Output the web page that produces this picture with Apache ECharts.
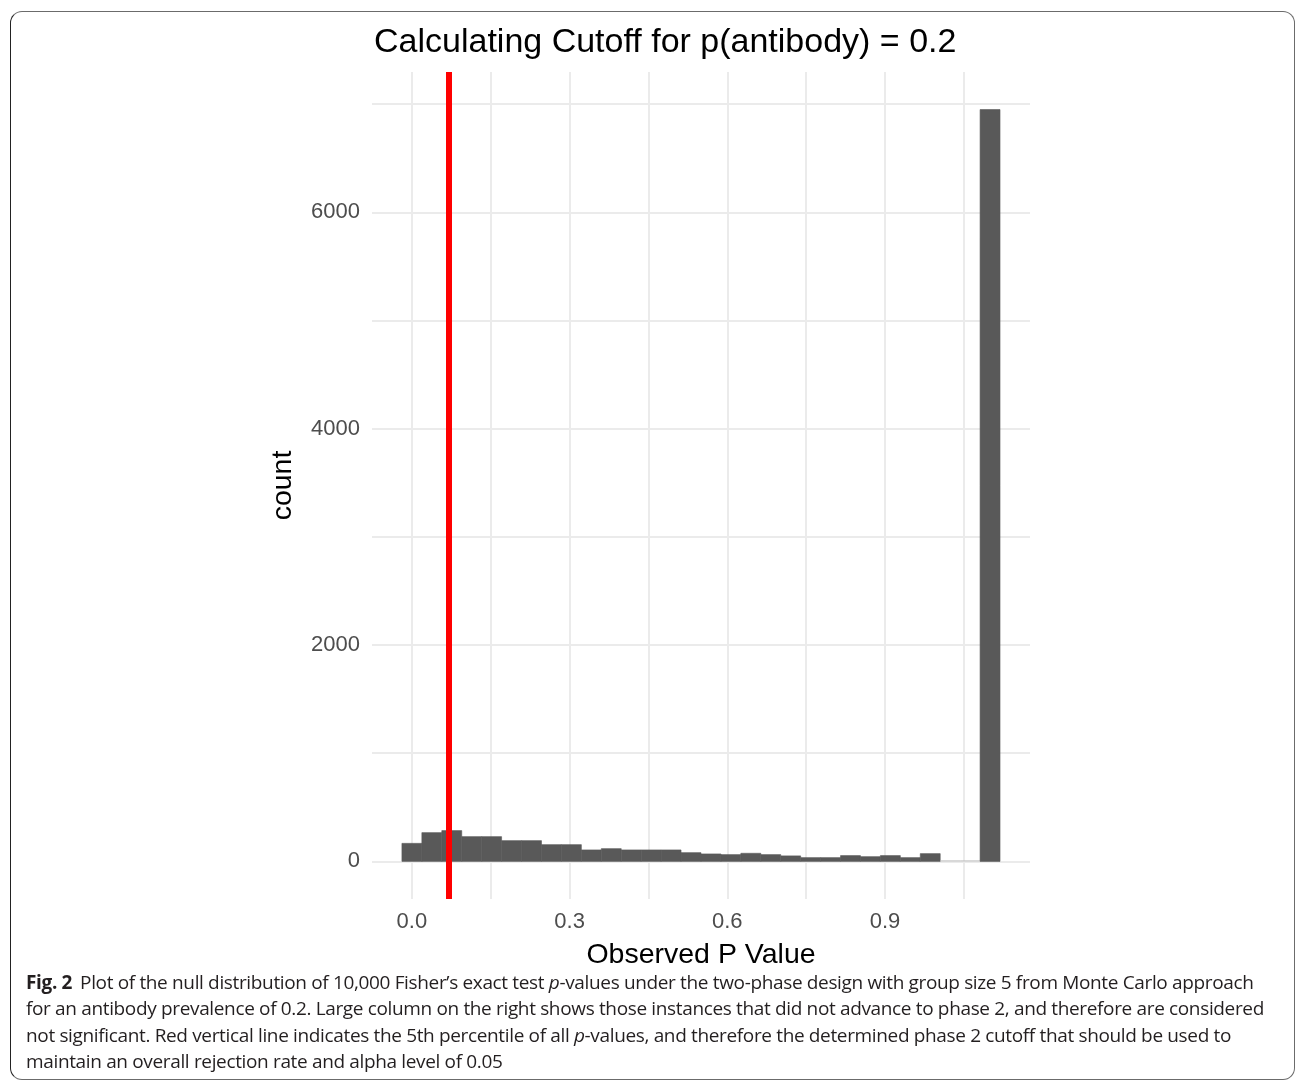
<!DOCTYPE html>
<html>
<head>
<meta charset="utf-8">
<script src="https://cdn.jsdelivr.net/npm/echarts@6/dist/echarts.min.js"></script>
<style>
  html, body { margin: 0; padding: 0; background: #fff; }
  body { width: 1296px; height: 1083px; position: relative; overflow: hidden; }
  #frame { position: absolute; left: 10px; top: 11px; width: 1285px; height: 1069px;
           border: 1.5px solid #6b6b6b; border-left-color: #222; border-radius: 12px; box-sizing: border-box; }
  #chart { position: absolute; left: 0; top: 0; width: 1296px; height: 1083px; }
  #caption { position: absolute; left: 26px; top: 969px; width: 1260px;
             font-family: "Open Sans", "Noto Sans", sans-serif; font-size: 19px; color: #231f20;
             line-height: 26.3px; letter-spacing: -0.35px; }
  #caption div { white-space: nowrap; }
  #caption b { font-weight: 700; margin-right: 8px; }
</style>
</head>
<body>
<div id="frame"></div>
<div id="chart"></div>
<div id="caption">
  <div><b>Fig. 2</b>Plot of the null distribution of 10,000 Fisher’s exact test <i>p</i>-values under the two-phase design with group size 5 from Monte Carlo approach</div>
  <div>for an antibody prevalence of 0.2. Large column on the right shows those instances that did not advance to phase 2, and therefore are considered</div>
  <div>not significant. Red vertical line indicates the 5th percentile of all <i>p</i>-values, and therefore the determined phase 2 cutoff that should be used to</div>
  <div>maintain an overall rejection rate and alpha level of 0.05</div>
</div>
<script>
// ---- data ----
const titleText = "Calculating Cutoff for p(antibody) = 0.2";
const xAxisTitle = "Observed P Value";
const yAxisTitle = "count";
const binWidth = 1.1 / 29;           // 30 bins, centers from 0 to 1.1
const binCounts = [167, 266, 285, 229, 229, 192, 192, 155, 155, 106,
                   118, 106, 106, 106, 81, 69, 63, 75, 63, 51,
                   35, 35, 54, 44, 54, 35, 72, 0, 0, 6950];
const cutoffValue = 0.066;
const xTickLabels = [0, 0.3, 0.6, 0.9];
const xGridValues = [0, 0.15, 0.3, 0.45, 0.6, 0.75, 0.9, 1.05];
const yTickLabels = [0, 2000, 4000, 6000];
const yGridValues = [0, 1000, 2000, 3000, 4000, 5000, 6000, 7000];
const xRange = [-0.0759, 1.176];
const yRange = [-347.5, 7297.5];

const barData = binCounts.map((c, i) => [i * binWidth, c]);

const chart = echarts.init(document.getElementById('chart'), null, { renderer: 'canvas' });
const gridColor = '#EBEBEB';
const font = '"Liberation Sans", Arial, sans-serif';

const option = {
  animation: false,
  backgroundColor: 'transparent',
  title: {
    text: titleText, left: 369, top: 21,
    textStyle: { fontFamily: font, fontSize: 34, fontWeight: 'normal', color: '#000' }
  },
  grid: { left: 372, top: 72, width: 658, height: 827, containLabel: false, outerBoundsMode: 'none' },
  xAxis: {
    type: 'value', min: xRange[0], max: xRange[1],
    axisLine: { show: false }, axisTick: { show: false }, splitLine: { show: false },
    axisLabel: {
      customValues: xTickLabels, formatter: v => v.toFixed(1),
      color: '#4D4D4D', fontSize: 22, fontFamily: font, margin: 12
    },
    name: xAxisTitle, nameLocation: 'middle', nameGap: 42,
    nameTextStyle: { fontFamily: font, fontSize: 28.5, color: '#000' }
  },
  yAxis: {
    type: 'value', min: yRange[0], max: yRange[1],
    axisLine: { show: false }, axisTick: { show: false }, splitLine: { show: false },
    axisLabel: {
      customValues: yTickLabels, formatter: v => String(v),
      color: '#4D4D4D', fontSize: 22, fontFamily: font, margin: 12
    },
    name: yAxisTitle, nameLocation: 'middle', nameGap: 74, nameRotate: 90,
    nameTextStyle: { fontFamily: font, fontSize: 28.5, color: '#000' }
  },
  series: [
    {
      type: 'line', data: [], silent: true, z: 1,
      markLine: {
        z: 1, silent: true, symbol: 'none', label: { show: false },
        lineStyle: { color: gridColor, width: 2, type: 'solid' },
        data: xGridValues.map(v => ({ xAxis: v })).concat(yGridValues.map(v => ({ yAxis: v })))
      }
    },
    {
      type: 'custom', z: 3,
      data: barData,
      renderItem: function (params, api) {
        const x = api.value(0), y = api.value(1);
        const p0 = api.coord([x - binWidth / 2, 0]);
        const p1 = api.coord([x + binWidth / 2, y]);
        const h = p0[1] - p1[1];
        if (h < 0.5) {
          return { type: 'rect', shape: { x: p0[0], y: p0[1] - 1, width: p1[0] - p0[0], height: 1 },
                   style: { fill: '#BDBDBD' } };
        }
        return { type: 'rect', shape: { x: p0[0], y: p1[1], width: p1[0] - p0[0], height: h },
                 style: { fill: '#595959', stroke: '#595959', lineWidth: 0.6 } };
      }
    },
    {
      type: 'line', data: [], silent: true, z: 5,
      markLine: {
        z: 10, silent: true, symbol: 'none', label: { show: false },
        lineStyle: { color: '#FF0000', width: 6, type: 'solid' },
        data: [{ xAxis: cutoffValue }]
      }
    }
  ]
};
chart.setOption(option);
</script>
</body>
</html>
